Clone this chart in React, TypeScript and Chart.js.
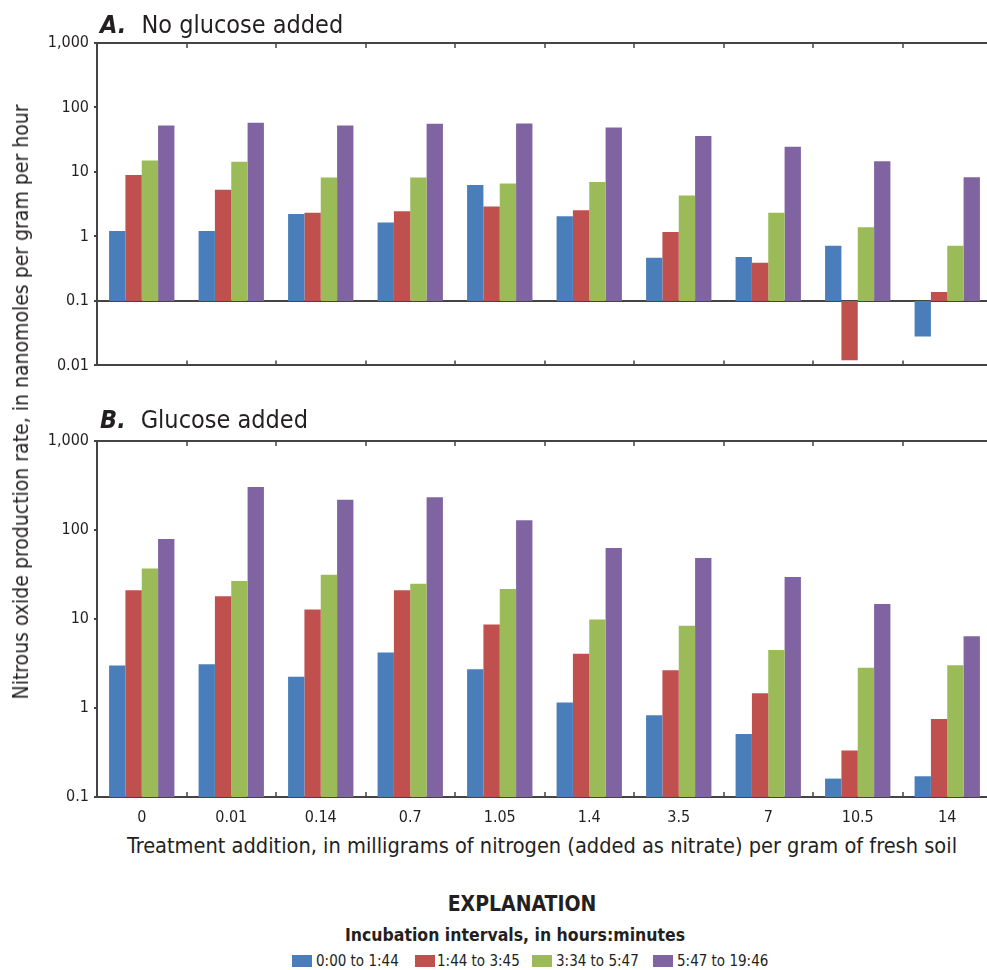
import React, { useEffect, useRef } from 'react';
import { Chart, registerables } from 'chart.js';

Chart.register(...registerables);

// ---------- data ----------
const categories = ['0', '0.01', '0.14', '0.7', '1.05', '1.4', '3.5', '7', '10.5', '14'];
const seriesLabels = ['0:00 to 1:44', '1:44 to 3:45', '3:34 to 5:47', '5:47 to 19:46'];
const seriesColors = ['#4A7EBB', '#C0504D', '#9BBB59', '#8064A2'];

// Panel A: no glucose added
const noGlucoseA1 = [1.21, 1.21, 2.23, 1.64, 6.3, 2.05, 0.467, 0.48, 0.72, 0.028];
const noGlucoseA2 = [9.0, 5.3, 2.34, 2.45, 2.92, 2.54, 1.17, 0.39, 0.012, 0.137];
const noGlucoseA3 = [15.1, 14.4, 8.2, 8.2, 6.6, 7.0, 4.3, 2.34, 1.39, 0.72];
const noGlucoseA4 = [52.7, 58, 52.7, 55.8, 56.5, 49, 36, 24.5, 14.6, 8.3];

// Panel B: glucose added
const glucoseB1 = [3.0, 3.1, 2.24, 4.2, 2.73, 1.15, 0.83, 0.51, 0.161, 0.171];
const glucoseB2 = [21, 18, 12.8, 21, 8.7, 4.06, 2.66, 1.46, 0.333, 0.75];
const glucoseB3 = [37, 26.7, 31.4, 24.9, 21.7, 9.9, 8.4, 4.47, 2.83, 3.03];
const glucoseB4 = [79, 305, 219, 233, 129, 62.7, 48.4, 29.6, 14.7, 6.4];

const panelATicks = [0.01, 0.1, 1, 10, 100, 1000];
const panelBTicks = [0.1, 1, 10, 100, 1000];
const barBase = 0.1;

// ---------- style ----------
const FONT = "'Liberation Sans Narrow', 'DejaVu Sans Condensed', 'Arial Narrow', sans-serif";
const TEXT = '#231F20';
const AXIS = '#444444';

const frameTicks = {
  id: 'frameTicks',
  afterDraw(chart: any) {
    const { ctx, chartArea, scales } = chart;
    const x = scales.x;
    ctx.save();
    ctx.strokeStyle = AXIS;
    ctx.lineWidth = 2;
    ctx.beginPath();
    ctx.moveTo(chartArea.left, chartArea.top);
    ctx.lineTo(chartArea.right, chartArea.top);
    ctx.stroke();
    ctx.lineWidth = 1.5;
    ctx.beginPath();
    for (let i = 1; i < categories.length; i++) {
      const px = Math.round((x.getPixelForValue(i - 1) + x.getPixelForValue(i)) / 2);
      ctx.moveTo(px, chartArea.top);
      ctx.lineTo(px, chartArea.top + 5);
      ctx.moveTo(px, chartArea.bottom);
      ctx.lineTo(px, chartArea.bottom - 5);
    }
    ctx.stroke();
    ctx.restore();
  },
};

function makeConfig(series: number[][], floating: boolean, ticks: number[], min: number, showX: boolean, padTop: number, xHeight: number): any {
  return {
    type: 'bar',
    data: {
      labels: categories,
      datasets: series.map((vals, i) => ({
        label: seriesLabels[i],
        data: floating ? vals.map((v) => [barBase, v]) : vals,
        backgroundColor: seriesColors[i],
        borderWidth: 0,
        categoryPercentage: 0.73,
        barPercentage: 1.0,
      })),
    },
    options: {
      responsive: false,
      animation: false,
      layout: { padding: { top: padTop, left: 0, right: 0, bottom: 0 } },
      plugins: { legend: { display: false }, tooltip: { enabled: false }, title: { display: false } },
      scales: {
        x: {
          grid: { display: false },
          border: { display: true, color: AXIS, width: 2 },
          ticks: { display: showX, font: { family: FONT, size: 16 }, color: TEXT, padding: 3, maxRotation: 0 },
          afterFit: (s: any) => { s.height = xHeight; },
        },
        y: {
          type: 'logarithmic',
          min,
          max: 1000,
          z: 1,
          afterBuildTicks: (s: any) => { s.ticks = ticks.map((v) => ({ value: v })); },
          afterFit: (s: any) => { s.width = 97; },
          ticks: {
            autoSkip: false,
            font: { family: FONT, size: 16 },
            color: TEXT,
            padding: 5,
            callback: (v: any) => Number(v).toLocaleString('en-US', { maximumFractionDigits: 3 }),
          },
          grid: {
            drawOnChartArea: floating,
            color: (c: any) => (c.tick && Math.abs(c.tick.value - barBase) < 1e-9 ? AXIS : 'rgba(0,0,0,0)'),
            lineWidth: 2,
            tickColor: AXIS,
            tickLength: 3,
          },
          border: { display: true, color: AXIS, width: 2 },
        },
      },
    },
    plugins: [frameTicks],
  };
}

export default function App() {
  const refA = useRef<HTMLCanvasElement>(null);
  const refB = useRef<HTMLCanvasElement>(null);

  useEffect(() => {
    const a = new Chart(refA.current!, makeConfig([noGlucoseA1, noGlucoseA2, noGlucoseA3, noGlucoseA4], true, panelATicks, 0.01, false, 43, 10));
    const b = new Chart(refB.current!, makeConfig([glucoseB1, glucoseB2, glucoseB3, glucoseB4], false, panelBTicks, 0.1, true, 61, 30));
    return () => { a.destroy(); b.destroy(); };
  }, []);

  const abs = (s: React.CSSProperties): React.CSSProperties => ({ position: 'absolute', ...s });
  const panelTitle = (letter: string, text: string, top: number) => (
    <div style={abs({ left: 100, top, fontFamily: FONT, fontSize: 25, color: TEXT, whiteSpace: 'nowrap', lineHeight: '30px' })}>
      <span style={{ fontWeight: 'bold', fontStyle: 'italic' }}>{letter}</span>
      <span style={{ marginLeft: 15 }}>{text}</span>
    </div>
  );

  const legendStarts = [292, 415, 532, 653];

  return (
    <div style={abs({ left: 0, top: 0, width: 987, height: 970, overflow: 'hidden', background: '#fff' })}>
      <canvas ref={refA} width={992} height={380} style={abs({ left: 0, top: 0, width: 992, height: 380 })} />
      <canvas ref={refB} width={992} height={447} style={abs({ left: 0, top: 380, width: 992, height: 447 })} />
      {panelTitle('A.', 'No glucose added', 10)}
      {panelTitle('B.', 'Glucose added', 405)}
      <div style={abs({ left: 21, top: 402, width: 0, height: 0 })}>
        <div style={{ position: 'absolute', left: 0, top: 0, transform: 'translate(-50%, -50%) rotate(-90deg)', fontFamily: FONT, fontSize: 21, color: TEXT, whiteSpace: 'nowrap' }}>
          Nitrous oxide production rate, in nanomoles per gram per hour
        </div>
      </div>
      <div style={abs({ left: 97, width: 890, top: 833, textAlign: 'center', fontFamily: FONT, fontSize: 21.6, color: TEXT, lineHeight: '26px', whiteSpace: 'nowrap' })}>
        Treatment addition, in milligrams of nitrogen (added as nitrate) per gram of fresh soil
      </div>
      <div style={abs({ left: 0, width: 1044, top: 890, textAlign: 'center', fontFamily: FONT, fontSize: 21, fontWeight: 'bold', color: TEXT, lineHeight: '28px' })}>
        EXPLANATION
      </div>
      <div style={abs({ left: 0, width: 1030, top: 923, textAlign: 'center', fontFamily: FONT, fontSize: 17.5, fontWeight: 'bold', color: TEXT, lineHeight: '24px' })}>
        Incubation intervals, in hours:minutes
      </div>
      {seriesLabels.map((l, i) => (
        <div key={l} style={abs({ left: legendStarts[i], top: 951, display: 'flex', alignItems: 'center', fontFamily: FONT, fontSize: 15, color: TEXT, lineHeight: '20px', whiteSpace: 'nowrap' })}>
          <span style={{ display: 'inline-block', width: 20, height: 12, background: seriesColors[i], marginRight: i === 1 ? 2 : 4 }} />
          <span>{l}</span>
        </div>
      ))}
    </div>
  );
}
